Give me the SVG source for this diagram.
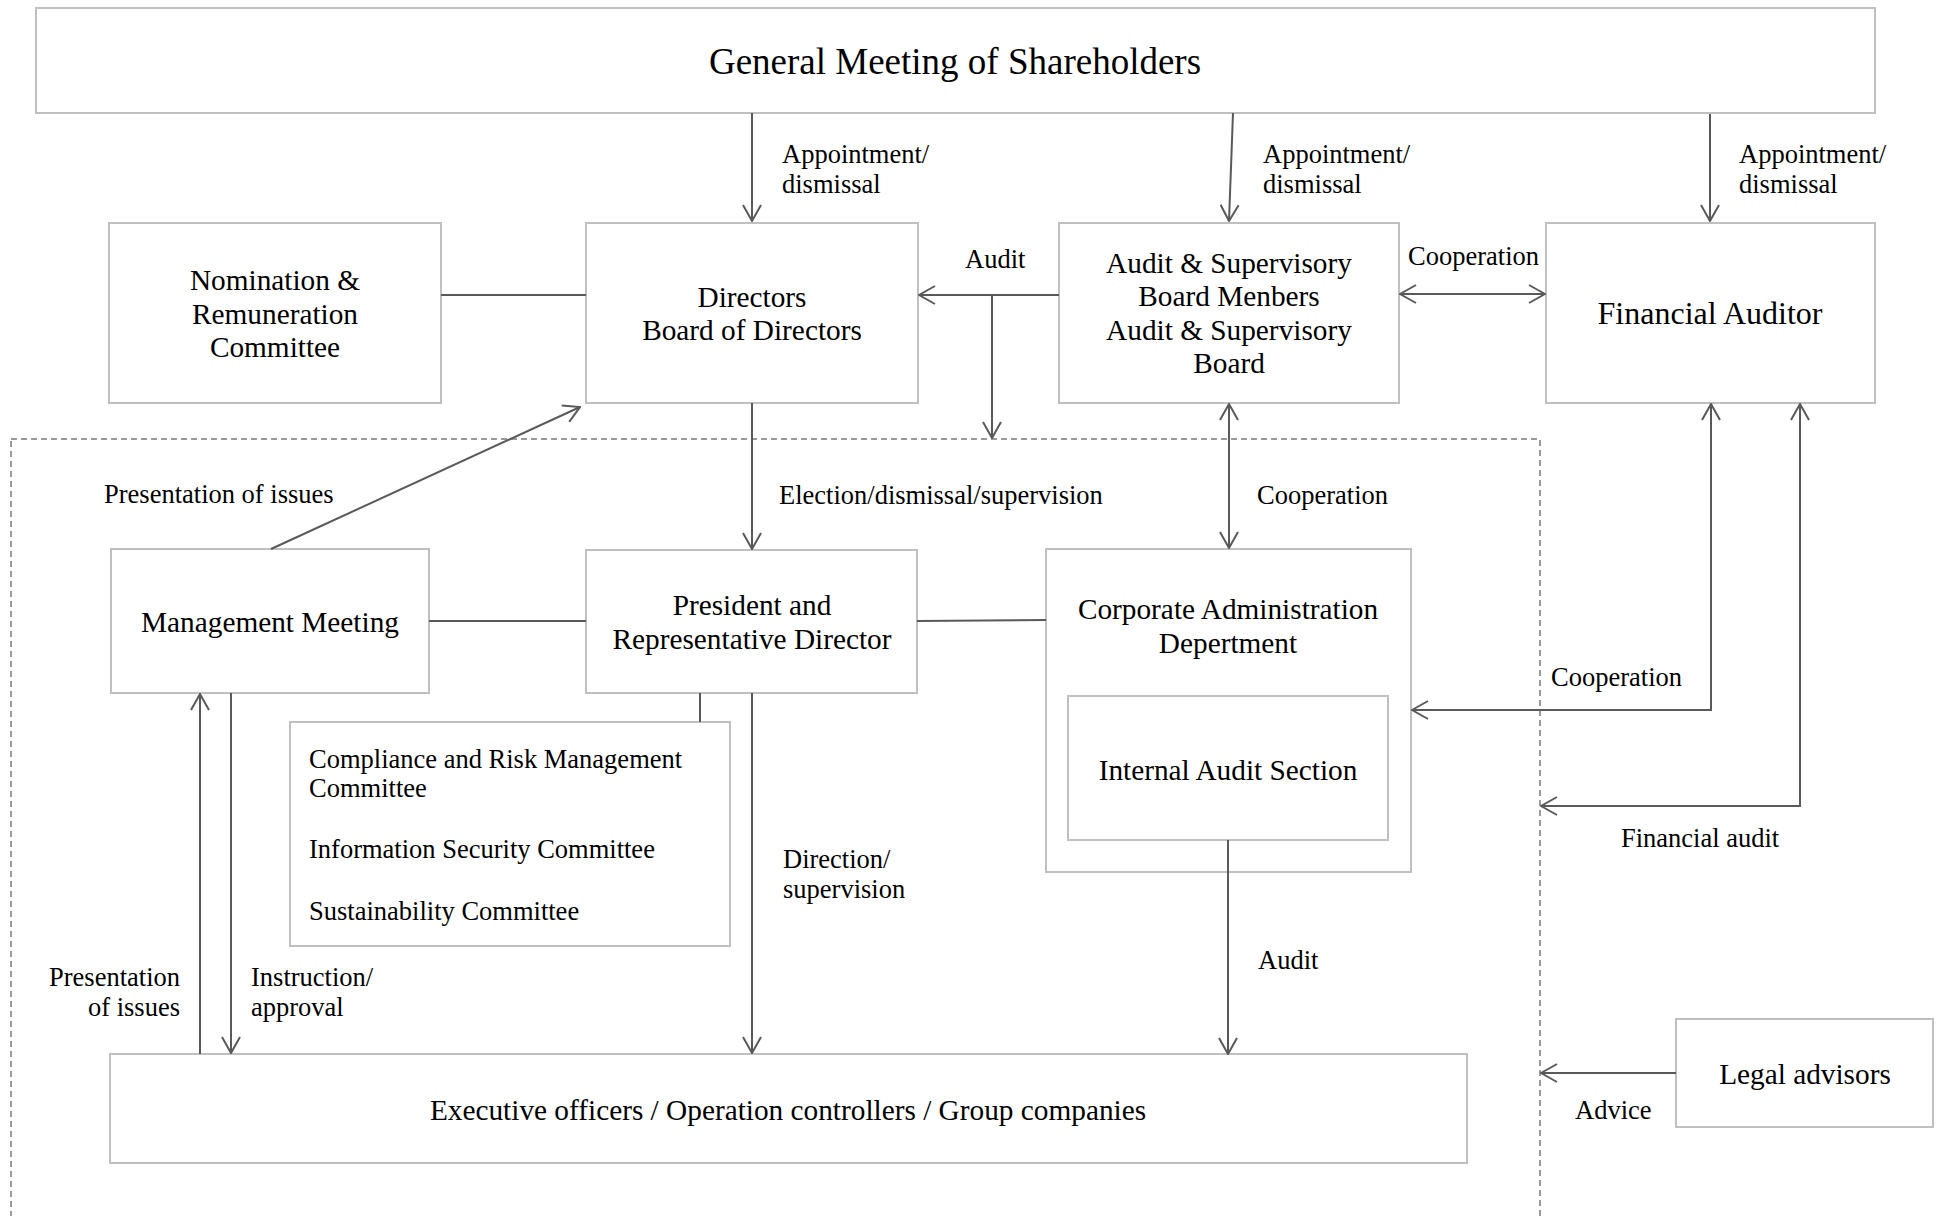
<svg xmlns="http://www.w3.org/2000/svg" width="1947" height="1216" viewBox="0 0 1947 1216">
<style>
.box{fill:#fff;stroke:#c0c0c0;stroke-width:2}
.c{fill:none;stroke:#595959;stroke-width:2}
.a{marker-end:url(#ah)}
.d{marker-start:url(#ah);marker-end:url(#ah)}
text{font-family:"Liberation Serif","Times New Roman",serif;fill:#000}
.bt{font-size:29.3px;text-anchor:middle}
.lb{font-size:26.5px}
</style>
<defs>
<marker id="ah" viewBox="0 0 18 20" refX="17" refY="10" markerWidth="18" markerHeight="20" markerUnits="userSpaceOnUse" orient="auto-start-reverse">
<path d="M1,1 L17,10 L1,19" fill="none" stroke="#595959" stroke-width="2"/>
</marker>
</defs>
<rect x="0" y="0" width="1947" height="1216" fill="#fff"/>
<rect id="internal-area" x="11" y="439" width="1529" height="800" fill="none" stroke="#7a7a7a" stroke-width="1.5" stroke-dasharray="6,4"/>

<g id="gms"><rect class="box" x="36" y="8" width="1839" height="105"/><text x="955" y="74" font-size="37" text-anchor="middle">General Meeting of Shareholders</text></g>
<g id="nomination"><rect class="box" x="109" y="223" width="332" height="180"/><text class="bt" x="275" y="290">Nomination &amp;</text><text class="bt" x="275" y="324">Remuneration</text><text class="bt" x="275" y="357">Committee</text></g>
<g id="directors"><rect class="box" x="586" y="223" width="332" height="180"/><text class="bt" x="752" y="307">Directors</text><text class="bt" x="752" y="340">Board of Directors</text></g>
<g id="audit-board"><rect class="box" x="1059" y="223" width="340" height="180"/><text class="bt" x="1229" y="273">Audit &amp; Supervisory</text><text class="bt" x="1229" y="306">Board Menbers</text><text class="bt" x="1229" y="340">Audit &amp; Supervisory</text><text class="bt" x="1229" y="373">Board</text></g>
<g id="financial-auditor"><rect class="box" x="1546" y="223" width="329" height="180"/><text x="1710" y="324" font-size="32" text-anchor="middle">Financial Auditor</text></g>
<g id="management-meeting"><rect class="box" x="111" y="549" width="318" height="144"/><text class="bt" x="270" y="632">Management Meeting</text></g>
<g id="president"><rect class="box" x="586" y="550" width="331" height="143"/><text class="bt" x="752" y="615">President and</text><text class="bt" x="752" y="649">Representative Director</text></g>
<g id="corporate-admin"><rect class="box" x="1046" y="549" width="365" height="323"/><text class="bt" x="1228" y="619">Corporate Administration</text><text class="bt" x="1228" y="653">Depertment</text></g>
<g id="internal-audit"><rect class="box" x="1068" y="696" width="320" height="144"/><text class="bt" x="1228" y="780">Internal Audit Section</text></g>
<g id="committees"><rect class="box" x="290" y="722" width="440" height="224"/><text class="lb" x="309" y="768">Compliance and Risk Management</text><text class="lb" x="309" y="797">Committee</text><text class="lb" x="309" y="858">Information Security Committee</text><text class="lb" x="309" y="920">Sustainability Committee</text></g>
<g id="executives"><rect class="box" x="110" y="1054" width="1357" height="109"/><text class="bt" x="788" y="1120">Executive officers / Operation controllers / Group companies</text></g>
<g id="legal"><rect class="box" x="1676" y="1019" width="257" height="108"/><text class="bt" x="1805" y="1084">Legal advisors</text></g>

<g id="connectors">
<line class="c a" x1="752" y1="113" x2="752" y2="221"/>
<line class="c a" x1="1233" y1="113" x2="1229" y2="221"/>
<line class="c a" x1="1710" y1="114" x2="1710" y2="221"/>
<line class="c" x1="441" y1="295" x2="586" y2="295"/>
<line class="c a" x1="1059" y1="295" x2="919" y2="295"/>
<line class="c a" x1="992" y1="295" x2="992" y2="438"/>
<line class="c d" x1="1400" y1="294" x2="1545" y2="294"/>
<line class="c a" x1="752" y1="403" x2="752" y2="549"/>
<line class="c a" x1="271" y1="549" x2="580" y2="407"/>
<line class="c d" x1="1229" y1="404" x2="1229" y2="548"/>
<line class="c" x1="429" y1="621" x2="586" y2="621"/>
<line class="c" x1="917" y1="621" x2="1046" y2="620"/>
<line class="c" x1="700" y1="693" x2="700" y2="722"/>
<line class="c a" x1="752" y1="693" x2="752" y2="1053"/>
<line class="c a" x1="200" y1="1054" x2="200" y2="694"/>
<line class="c a" x1="231" y1="693" x2="231" y2="1053"/>
<line class="c a" x1="1228" y1="840" x2="1228" y2="1054"/>
<path class="c d" d="M1412,710 L1711,710 L1711,404"/>
<path class="c d" d="M1541,806 L1800,806 L1800,404"/>
<line class="c a" x1="1676" y1="1073" x2="1541" y2="1073"/>
</g>

<g id="labels">
<text class="lb" x="782" y="163">Appointment/</text><text class="lb" x="782" y="193">dismissal</text>
<text class="lb" x="1263" y="163">Appointment/</text><text class="lb" x="1263" y="193">dismissal</text>
<text class="lb" x="1739" y="163">Appointment/</text><text class="lb" x="1739" y="193">dismissal</text>
<text class="lb" x="965" y="268">Audit</text>
<text class="lb" x="1408" y="265">Cooperation</text>
<text class="lb" x="104" y="503">Presentation of issues</text>
<text class="lb" x="779" y="504">Election/dismissal/supervision</text>
<text class="lb" x="1257" y="504">Cooperation</text>
<text class="lb" x="1551" y="686">Cooperation</text>
<text class="lb" x="1621" y="847">Financial audit</text>
<text class="lb" x="783" y="868">Direction/</text><text class="lb" x="783" y="898">supervision</text>
<text class="lb" x="180" y="986" text-anchor="end">Presentation</text><text class="lb" x="180" y="1016" text-anchor="end">of issues</text>
<text class="lb" x="251" y="986">Instruction/</text><text class="lb" x="251" y="1016">approval</text>
<text class="lb" x="1258" y="969">Audit</text>
<text class="lb" x="1575" y="1119">Advice</text>
</g>
</svg>
